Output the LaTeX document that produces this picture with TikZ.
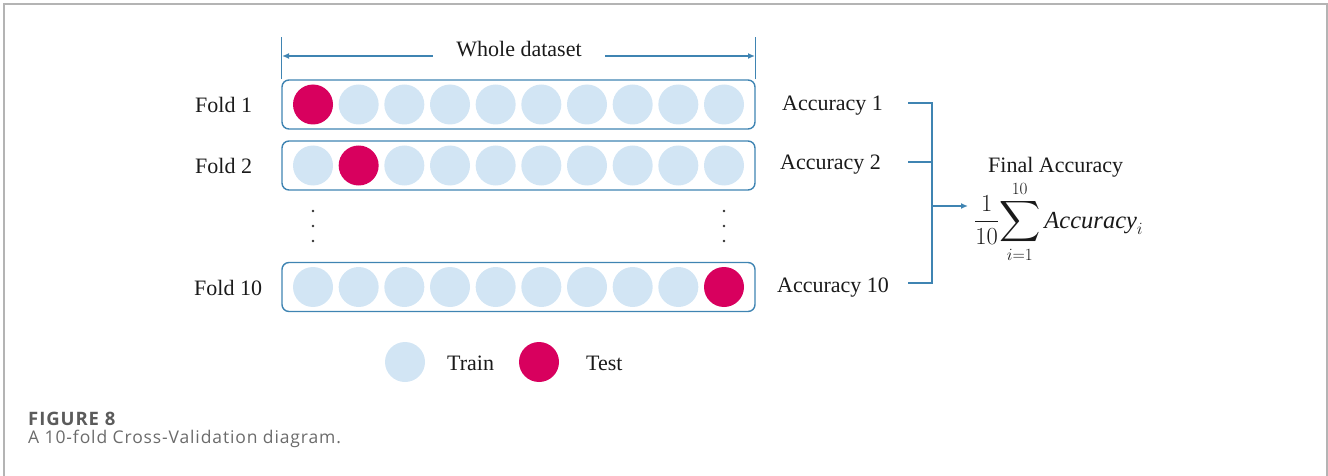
\documentclass[tikz,border=0pt]{standalone}
\usepackage{fix-cm}
\usepackage{exscale}
\usepackage{graphicx}
\usepackage{fontspec}
\setmainfont{Liberation Serif}
\newfontfamily\capfont[LetterSpace=5]{Open Sans}
\newfontfamily\capboldfont[LetterSpace=5]{Open Sans}
\usetikzlibrary{arrows.meta}
\definecolor{testpink}{HTML}{D8005E}
\definecolor{trainblue}{HTML}{D2E5F4}
\definecolor{boxblue}{HTML}{3F84B2}
\definecolor{inkc}{HTML}{1A1A1A}
\definecolor{dotc}{HTML}{333333}
\definecolor{capgray}{HTML}{6B6B6B}
\definecolor{framegray}{HTML}{B4B4B4}
% a taller summation sign for the averaging formula
\newcommand{\bigsumop}{\mathop{\vcenter{\hbox{\scalebox{1.15}{$\displaystyle\sum$}}}}\limits}
\begin{document}
\begin{tikzpicture}[x=1pt,y=-1pt,
  lbl/.style={font=\fontsize{22}{26}\selectfont, text=inkc, inner sep=0pt},
  foldbox/.style={draw=boxblue, line width=1.4pt, rounded corners=7pt,
    minimum width=473pt, minimum height=49pt, inner sep=0pt},
  train/.style={circle, fill=trainblue, minimum size=40pt, inner sep=0pt},
  test/.style={circle, fill=testpink, minimum size=40pt, inner sep=0pt},
  link/.style={draw=boxblue, line width=1.4pt},
  arr/.style={link, -{Latex[length=7pt,width=6pt]}},
  caption/.style={anchor=base west, inner sep=0pt, text=capgray,
    font=\capfont\fontsize{17.5}{20}\selectfont}]
\useasboundingbox (0,0) rectangle (1328,476);

% page frame (open at the bottom)
\draw[framegray, line width=1.5pt] (4,476) -- (4,4) -- (1327,4) -- (1327,476);

% folds: box with ten samples, one of them held out for testing
\foreach \r/\y/\t in {1/104.5/1, 2/165.5/2, 10/287/10} {
  \node[foldbox] (box\r) at (518.5,\y) {};
  \foreach \k in {1,...,10} {
    \pgfmathsetmacro\cx{313+(\k-1)*45.667}
    \ifnum\k=\t
      \node[test] (c\r-\k) at (\cx,\y) {};
    \else
      \node[train] (c\r-\k) at (\cx,\y) {};
    \fi
  }
}

% fold labels
\node[lbl, anchor=base west] (fold1) at (195,113) {Fold 1};
\node[lbl, anchor=base west] (fold2) at (195,173) {Fold 2};
\node[lbl, anchor=base west] (fold10) at (194,295) {Fold 10};

% vertical ellipsis between fold 2 and fold 10
\foreach \yy in {211,226,241} {
  \fill[dotc] (313,\yy) circle (1.3pt);
  \fill[dotc] (724,\yy) circle (1.3pt);
}

% whole dataset span
\node[lbl, anchor=base, inner xsep=23.5pt] (whole) at (519,57) {Whole dataset};
\coordinate (wl) at (282,56);
\coordinate (wr) at (755,56);
\draw[link] (box1.north west) -- ++(0,-42);
\draw[link] (box1.north east) -- ++(0,-42);
\draw[arr] (whole.west |- wl) -- (wl);
\draw[arr] (whole.east |- wr) -- (wr);

% accuracies per fold
\node[lbl, anchor=base west] (acc1) at (782,111) {Accuracy 1};
\node[lbl, anchor=base west] (acc2) at (780,170) {Accuracy 2};
\node[lbl, anchor=base west] (acc10) at (777,292) {Accuracy 10};

% final accuracy
\node[lbl, anchor=base west] (finaltitle) at (988,172) {Final Accuracy};
\node[lbl, anchor=base west, font=\fontsize{24.5}{28}\selectfont] (final) at (974,228)
  {$\displaystyle\frac{1}{10}\!\bigsumop_{i=1}^{10}\mathit{Accuracy}_i$};

% bracket collecting the accuracies
\coordinate (b1) at (908,103);
\coordinate (b2) at (908,162);
\coordinate (b10) at (908,283);
\coordinate (join) at (932,206);
\draw[link] (b1) -| (join) |- (b10);
\draw[link] (b2) -- (b2 -| join);
\draw[arr, shorten >=6pt] (join) -- (join -| final.west);

% legend
\node[train] (legtrain) at (405,362) {};
\node[lbl, anchor=base west] (legtrainlbl) at (447,370) {Train};
\node[test] (legtest) at (539,362) {};
\node[lbl, anchor=base west] (legtestlbl) at (586,370) {Test};

% caption
\node[caption, text=capgray!85!black, font=\capboldfont\bfseries\fontsize{18.5}{21}\selectfont] (figno) at (28,425) {FIGURE 8};
\node[caption] (captext) at (28,443) {A 10-fold Cross-Validation diagram.};
\end{tikzpicture}
\end{document}
